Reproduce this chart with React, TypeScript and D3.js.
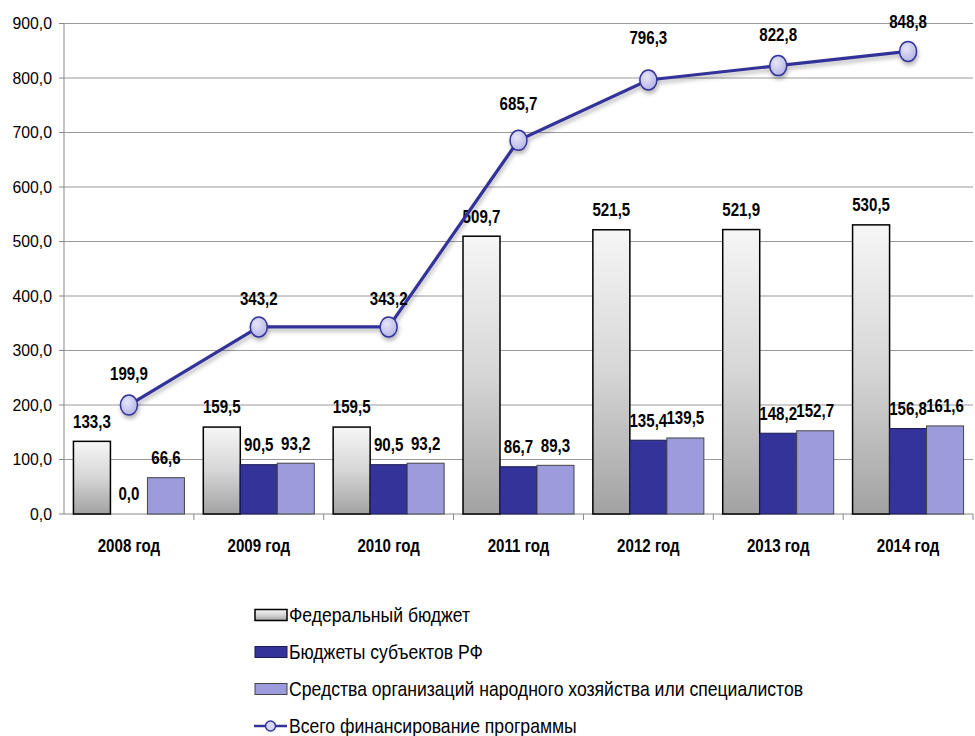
import React from "react";
import * as d3 from "d3";

const years = ["2008 год", "2009 год", "2010 год", "2011 год", "2012 год", "2013 год", "2014 год"];
const federal = [133.3, 159.5, 159.5, 509.7, 521.5, 521.9, 530.5];
const subjects = [0.0, 90.5, 90.5, 86.7, 135.4, 148.2, 156.8];
const orgs = [66.6, 93.2, 93.2, 89.3, 139.5, 152.7, 161.6];
const total = [199.9, 343.2, 343.2, 685.7, 796.3, 822.8, 848.8];
const yTicks = [0, 100, 200, 300, 400, 500, 600, 700, 800, 900];
const seriesNames = [
  "Федеральный бюджет",
  "Бюджеты субъектов РФ",
  "Средства организаций народного хозяйства или  специалистов",
  "Всего финансирование программы",
];
// label offsets above line markers (layout only)
const lineLabelGap = [31, 28, 28, 37, 42, 31, 30];

const W = 975, H = 736;
const left = 64, right = 973, top = 23.5, bottom = 514;
const FONT = "'Liberation Sans', Arial, sans-serif";
const fmt = (v: number) => v.toFixed(1).replace(".", ",");

function NText(props: { x: number; y: number; s?: number; anchor?: string; bold?: boolean; size?: number; children: React.ReactNode }) {
  const { x, y, s = 0.84, anchor = "middle", bold = true, size = 18, children } = props;
  return (
    <text
      transform={`translate(${x},${y}) scale(${s},1)`}
      dy="0.35em"
      textAnchor={anchor as any}
      fontFamily={FONT}
      fontWeight={bold ? "bold" : "normal"}
      fontSize={size}
      fill="#000"
    >
      {children}
    </text>
  );
}

export default function App() {
  const x = d3.scaleBand<string>().domain(years).range([left, right]).paddingInner(0).paddingOuter(0);
  const y = d3.scaleLinear().domain([0, 900]).range([bottom, top]);
  const inner = d3.scaleBand<number>().domain([0, 1, 2]).range([0, x.bandwidth()]).paddingOuter(0.255).paddingInner(0);
  const series = [federal, subjects, orgs];
  const fills = ["url(#fedGrad)", "#333399", "#9c9cdc"];
  const strokes = ["#000", "#1a1a55", "#444"];
  const strokeW = [1.5, 1, 1];
  const cx = (i: number) => (x(years[i]) as number) + x.bandwidth() / 2;
  const line = d3.line<number>().x((_, i) => cx(i)).y((d) => y(d));

  return (
    <svg width={W} height={H} style={{ position: "absolute", left: 0, top: 0, background: "#fff" }}>
      <defs>
        <linearGradient id="fedGrad" x1="0" y1="0" x2="0" y2="1">
          <stop offset="0" stopColor="#f6f6f6" />
          <stop offset="0.5" stopColor="#d6d6d6" />
          <stop offset="1" stopColor="#a2a2a2" />
        </linearGradient>
        <radialGradient id="mk" cx="0.4" cy="0.35" r="0.7">
          <stop offset="0" stopColor="#e6e6f8" />
          <stop offset="1" stopColor="#b2b2e6" />
        </radialGradient>
        <filter id="sh" x="-20%" y="-20%" width="140%" height="160%">
          <feDropShadow dx="1" dy="3" stdDeviation="2" floodColor="#000" floodOpacity="0.3" />
        </filter>
      </defs>
      {yTicks.map((t) => (
        <g key={t}>
          {t > 0 && <line x1={left} x2={right} y1={y(t)} y2={y(t)} stroke="#9a9a9a" strokeWidth={1} />}
          <line x1={left - 5} x2={left} y1={y(t)} y2={y(t)} stroke="#888" />
          <NText x={52} y={y(t)} anchor="end" bold={false} size={17} s={0.93}>
            {fmt(t)}
          </NText>
        </g>
      ))}
      <line x1={left} x2={left} y1={top} y2={bottom} stroke="#888" />
      <line x1={left} x2={right} y1={bottom} y2={bottom} stroke="#888" />
      {years.map((yr) => (
        <line key={yr} x1={(x(yr) as number) + x.bandwidth()} x2={(x(yr) as number) + x.bandwidth()} y1={bottom} y2={bottom + 6} stroke="#888" />
      ))}
      {series.map((s, si) =>
        s.map((v, i) => {
          const bx = (x(years[i]) as number) + (inner(si) as number);
          return (
            <g key={si + "-" + i}>
              {v > 0 && (
                <rect x={bx} y={y(v)} width={inner.bandwidth()} height={bottom - y(v)} fill={fills[si]} stroke={strokes[si]} strokeWidth={strokeW[si]} />
              )}
              <NText x={bx + inner.bandwidth() / 2} y={y(v) - 20}>
                {fmt(v)}
              </NText>
            </g>
          );
        })
      )}
      {years.map((yr, i) => (
        <NText key={yr} x={cx(i)} y={546}>
          {yr}
        </NText>
      ))}
      <g filter="url(#sh)">
        <path d={line(total) as string} fill="none" stroke="#333399" strokeWidth={3.2} />
        {total.map((v, i) => (
          <ellipse key={i} cx={cx(i)} cy={y(v)} rx={8.5} ry={10} fill="url(#mk)" stroke="#333399" strokeWidth={1.5} />
        ))}
      </g>
      {total.map((v, i) => (
        <NText key={"t" + i} x={cx(i)} y={y(v) - lineLabelGap[i]}>
          {fmt(v)}
        </NText>
      ))}
      {seriesNames.map((n, i) => {
        const cy = 615 + i * 37;
        return (
          <g key={n}>
            {i < 3 ? (
              <rect x={255} y={cy - 5.5} width={32} height={11} fill={fills[i]} stroke={strokes[i]} strokeWidth={i === 0 ? 1.5 : 1} />
            ) : (
              <g>
                <line x1={254} x2={287} y1={cy} y2={cy} stroke="#333399" strokeWidth={2.5} />
                <circle cx={270.5} cy={cy} r={5} fill="#d8d8f4" stroke="#333399" strokeWidth={1.5} />
              </g>
            )}
            <NText x={289} y={cy} anchor="start" bold={false} size={20} s={0.88}>
              {n}
            </NText>
          </g>
        );
      })}
    </svg>
  );
}
